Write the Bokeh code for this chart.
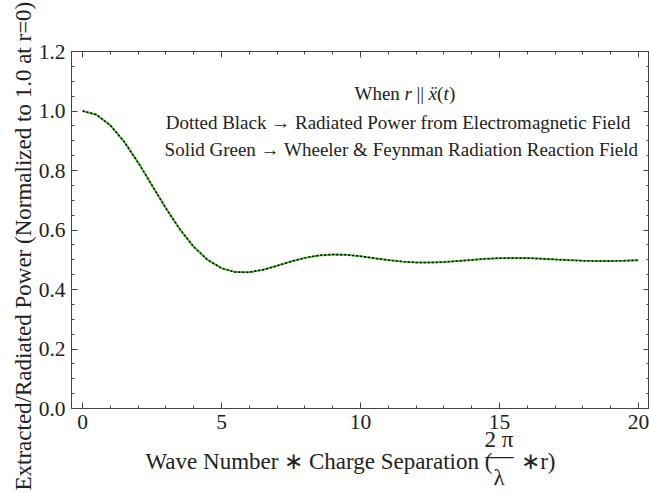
import numpy as np
from bokeh.plotting import figure
from bokeh.models import Range1d, LinearAxis, Label, FixedTicker, PrintfTickFormatter, Title
from bokeh.embed import file_html
from bokeh.resources import INLINE

# Data (x = k*r, y = normalized power)
x_vals = [0.0, 0.5, 1.0, 1.5, 2.0, 2.5, 3.0, 3.5, 4.0, 4.5, 5.0, 5.5, 6.0, 6.5, 7.0,
          7.5, 8.0, 8.5, 9.0, 9.5, 10.0, 10.5, 11.0, 11.5, 12.0, 12.5, 13.0, 13.5,
          14.0, 14.5, 15.0, 15.5, 16.0, 16.5, 17.0, 17.5, 18.0, 18.5, 19.0, 19.5, 20.0]
power_em = [1.0, 0.9876, 0.9518, 0.8962, 0.8266, 0.7497, 0.6728, 0.6024, 0.5435,
            0.4995, 0.4715, 0.4585, 0.4581, 0.4665, 0.4798, 0.4941, 0.5063, 0.5145,
            0.5177, 0.5164, 0.5118, 0.5053, 0.4988, 0.4937, 0.4907, 0.4904, 0.4922,
            0.4956, 0.4995, 0.5030, 0.5054, 0.5062, 0.5055, 0.5036, 0.5011, 0.4988,
            0.4968, 0.4958, 0.4959, 0.4970, 0.4986]
power_wf = list(power_em)

x_major = [0, 5, 10, 15, 20]
x_minor = list(range(0, 21))
y_major = [0.0, 0.2, 0.4, 0.6, 0.8, 1.0, 1.2]
y_minor = [round(0.05 * i, 2) for i in range(0, 25)]

FONT = "Liberation Serif"
AXC = "#444444"
TXT = "#222222"

p = figure(width=649, height=493, output_backend="svg", toolbar_location=None,
           x_range=Range1d(-0.4, 20.4), y_range=Range1d(0, 1.2),
           min_border_left=71, min_border_right=0, min_border_top=51,
           min_border_bottom=85)
p.grid.visible = False
p.outline_line_color = AXC
p.background_fill_color = "white"
p.border_fill_color = "white"

def style_axis(ax, show_labels):
    ax.axis_line_color = AXC
    ax.major_tick_line_color = AXC
    ax.minor_tick_line_color = AXC
    ax.major_tick_in = 6
    ax.major_tick_out = 0
    ax.minor_tick_in = 3
    ax.minor_tick_out = 0
    ax.major_label_text_font = FONT
    if show_labels:
        ax.major_label_text_font_size = "21.5px"
        ax.major_label_text_color = TXT
    else:
        ax.major_label_text_font_size = "1px"
        ax.major_label_text_color = None
        ax.major_label_standoff = 0

p.xaxis[0].ticker = FixedTicker(ticks=x_major, minor_ticks=x_minor)
p.yaxis[0].ticker = FixedTicker(ticks=y_major, minor_ticks=y_minor)
p.yaxis[0].formatter = PrintfTickFormatter(format="%.1f")
style_axis(p.xaxis[0], True)
style_axis(p.yaxis[0], True)
p.xaxis[0].major_label_standoff = 6
p.yaxis[0].major_label_standoff = 6

top = LinearAxis(ticker=FixedTicker(ticks=x_major, minor_ticks=x_minor))
style_axis(top, False)
p.add_layout(top, "above")
right = LinearAxis(ticker=FixedTicker(ticks=y_major, minor_ticks=y_minor))
style_axis(right, False)
p.add_layout(right, "right")

p.line(x_vals, power_wf, line_color="#4fc132", line_width=2)
p.line(x_vals, power_em, line_color="black", line_width=1.5, line_dash="2 2")

# pixel -> data helpers for text placed inside the frame
def dx(px):
    return (px - 71) / 578 * 20.8 - 0.4

def dy(py):
    return (408 - py) / 357 * 1.2

def lab(text, px, py, size="19px", align="center", style="normal"):
    p.add_layout(Label(x=dx(px), y=dy(py), text=text, text_font=FONT,
                       text_font_size=size, text_align=align,
                       text_baseline="middle", text_color=TXT,
                       text_font_style=style))

# annotation
lab("When", 354, 93, align="left")
lab("r", 404, 93, align="left", style="italic")
lab("||", 416, 93, align="left")
lab("ẍ", 428, 93, align="left", style="italic")
lab("(", 436.5, 93, align="left")
lab("t", 443, 93, align="left", style="italic")
lab(")", 448.5, 93, align="left")
lab("Dotted Black  \u2192 Radiated Power from Electromagnetic Field", 400, 122)
lab("Solid Green \u2192 Wheeler & Feynman Radiation Reaction Field", 401, 149)

# y axis title in the left panel
p.add_layout(Title(text="Extracted/Radiated Power (Normalized to 1.0 at r=0)",
                   align="left", offset=-82, standoff=0, text_font=FONT,
                   text_font_size="23px", text_font_style="normal",
                   text_color=TXT), "left")

# x axis title, built from stacked title rows in the bottom panel
def btitle(text, offset, standoff, size="23px", valign="top"):
    p.add_layout(Title(text=text, align="left", offset=offset, standoff=standoff,
                       vertical_align=valign, text_font=FONT,
                       text_font_size=size, text_font_style="normal",
                       text_color=TXT), "below")

btitle("2 \u03c0", 413, -9)
btitle("\u2014", 414, -21, size="28px")
btitle("Wave Number \u2217 Charge Separation (\u2003\u00a0\u2217r)", 74, -26)
btitle("\u03bb", 422, 1, valign="bottom")

open("out.html", "w").write(file_html(p, INLINE))
